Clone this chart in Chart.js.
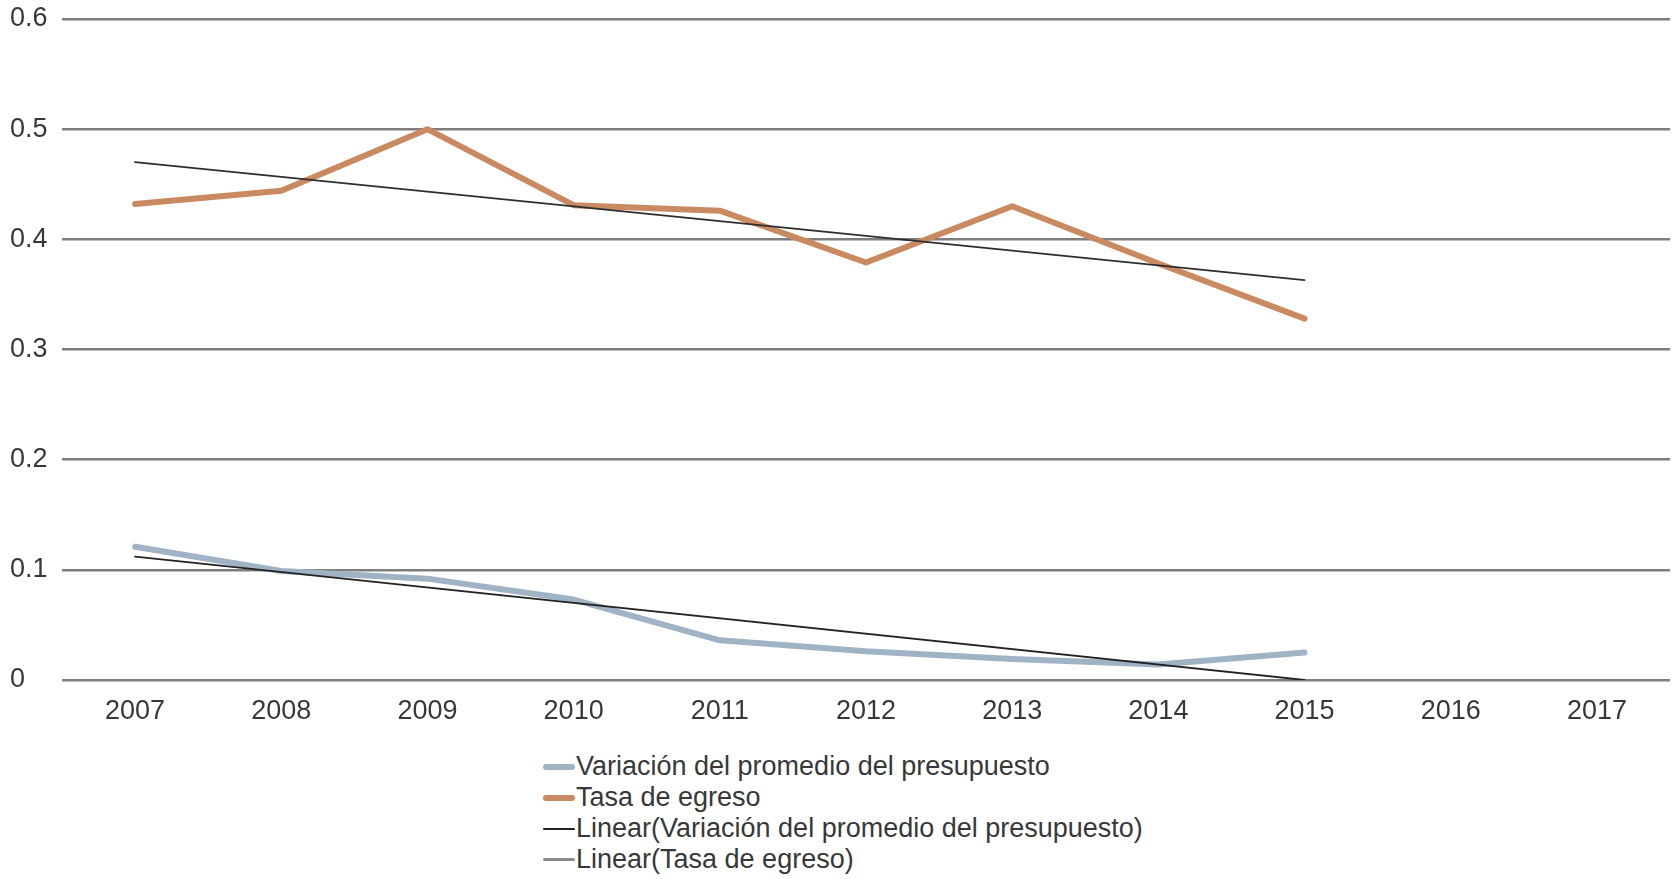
<!DOCTYPE html>
<html lang="es">
<head>
<meta charset="utf-8">
<title>Variación del promedio del presupuesto y tasa de egreso</title>
<script src="https://cdn.jsdelivr.net/npm/chart.js@4.4.1/dist/chart.umd.min.js"></script>
<style>
  body { margin: 0; background: #fff; font-family: "Liberation Sans", Arial, sans-serif; }
  #wrap { position: relative; width: 1679px; height: 879px; }
  #box { position: absolute; left: 0; top: 0; width: 1679px; height: 735px; }
  #legend { position: absolute; left: 543px; top: 751px; }
  .item { display: flex; align-items: center; height: 31px; font-size: 27px; color: #383838; white-space: nowrap; }
  .swatch { width: 32px; margin-right: 1px; border-radius: 3px; }
</style>
</head>
<body>
<div id="wrap">
  <div id="box"><canvas id="trend"></canvas></div>
  <div id="legend"></div>
</div>
<script>
// Data
const years = ["2007", "2008", "2009", "2010", "2011", "2012", "2013", "2014", "2015", "2016", "2017"];
const variacion = [0.121, 0.099, 0.092, 0.073, 0.036, 0.026, 0.019, 0.014, 0.025];
const tasaEgreso = [0.432, 0.444, 0.500, 0.431, 0.426, 0.379, 0.430, 0.378, 0.328];
// trend lines: only the two ends are given, the line spans the gap
const linearVariacion = [0.112, null, null, null, null, null, null, null, 0.000];
const linearTasa = [0.470, null, null, null, null, null, null, null, 0.363];
const yTickLabels = ["0", "0.1", "0.2", "0.3", "0.4", "0.5", "0.6"];
const seriesNames = [
  "Variación del promedio del presupuesto",
  "Tasa de egreso",
  "Linear(Variación del promedio del presupuesto)",
  "Linear(Tasa de egreso)"
];

const FONT = "'Liberation Sans', Arial, sans-serif";

const datasets = [
  { label: seriesNames[0], data: variacion, borderColor: "#9fb3c4", borderWidth: 6, order: 2, legendWidth: 6 },
  { label: seriesNames[1], data: tasaEgreso, borderColor: "#c98961", borderWidth: 6, order: 2, legendWidth: 6 },
  { label: seriesNames[2], data: linearVariacion, borderColor: "#222222", borderWidth: 1.8, order: 1, spanGaps: true, legendWidth: 2 },
  { label: seriesNames[3], data: linearTasa, borderColor: "#2e2e2e", borderWidth: 1.8, order: 1, spanGaps: true, legendWidth: 3, legendColor: "#8c8c8c" }
].map((d) => ({ ...d, pointRadius: 0, tension: 0, fill: false, borderCapStyle: "round", borderJoinStyle: "round" }));

const ctx = document.getElementById("trend").getContext("2d");
const chart = new Chart(ctx, {
  type: "line",
  data: { labels: years, datasets: datasets },
  options: {
    responsive: true,
    maintainAspectRatio: false,
    animation: false,
    layout: { padding: { top: 19, right: 9, bottom: 0, left: 10 } },
    plugins: {
      legend: { display: false },
      tooltip: { enabled: false }
    },
    scales: {
      x: {
        offset: true,
        grid: { display: false },
        border: { display: false },
        ticks: { color: "#383838", padding: 7, font: { size: 27, family: FONT } },
        afterFit: (s) => { s.height = 55; }
      },
      y: {
        min: 0,
        max: 0.6,
        grid: { color: "#7e7e7e", lineWidth: 2.5, drawTicks: false },
        border: { display: false },
        ticks: {
          stepSize: 0.1,
          crossAlign: "far",
          padding: 10,
          color: "#383838",
          font: { size: 27, family: FONT },
          callback: (v, i) => yTickLabels[i]
        },
        afterFit: (s) => {
          s.width = 52;
          s.paddingTop = 0;
          s.paddingBottom = 0;
        }
      }
    }
  }
});

// legend as a vertical list under the plot
const legendBox = document.getElementById("legend");
chart.data.datasets.forEach((d) => {
  const row = document.createElement("div");
  row.className = "item";
  const sw = document.createElement("span");
  sw.className = "swatch";
  sw.style.height = d.legendWidth + "px";
  sw.style.background = d.legendColor || d.borderColor;
  const txt = document.createElement("span");
  txt.textContent = d.label;
  row.appendChild(sw);
  row.appendChild(txt);
  legendBox.appendChild(row);
});
</script>
</body>
</html>
